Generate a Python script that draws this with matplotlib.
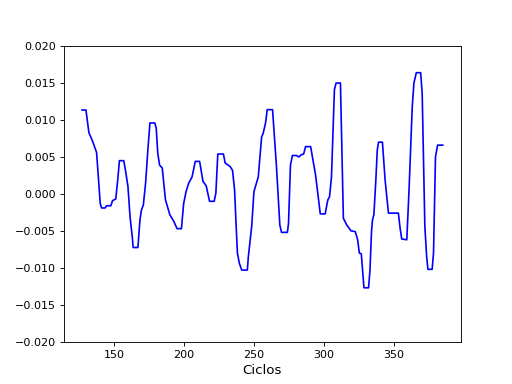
import numpy as np
import matplotlib
matplotlib.use('Agg')
from matplotlib import pyplot as plt

# puntos
ciclos = [127.1, 129.9, 132.0, 134.7, 137.5, 140.1, 141.1, 143.6, 144.6, 147.7,
          148.9, 151.2, 152.8, 153.8, 156.9, 158.3, 159.9, 161.4, 163.1, 163.6,
          167.0, 168.5, 169.5, 170.9, 172.5, 174.1, 175.6, 179.1, 180.1, 181.2,
          182.5, 184.4, 186.7, 189.8, 192.6, 195.0, 198.1, 199.7, 201.4, 203.3,
          205.7, 208.0, 211.1, 213.5, 215.8, 218.2, 221.5, 222.7, 224.1, 228.1,
          229.3, 232.9, 234.6, 236.1, 237.1, 238.1, 239.5, 241.2, 245.2, 245.9,
          248.3, 249.9, 251.3, 253.0, 255.4, 256.5, 258.2, 259.4, 263.2, 266.0,
          268.4, 269.6, 273.8, 274.6, 276.0, 277.4, 280.2, 281.9, 283.8, 285.4,
          286.8, 290.4, 293.9, 297.3, 300.8, 302.7, 303.9, 305.3, 307.4, 308.6,
          311.7, 313.8, 316.2, 319.3, 322.3, 324.0, 325.2, 326.6, 328.5, 331.8,
          332.8, 333.9, 334.6, 335.6, 337.0, 338.0, 338.9, 341.7, 343.6, 346.0,
          353.1, 354.3, 355.5, 359.1, 360.7, 363.0, 364.2, 365.9, 369.0, 370.1,
          372.0, 373.3, 374.2, 377.2, 378.2, 379.6, 381.1, 384.8]
valores = [0.01135, 0.01135, 0.0083, 0.0071, 0.0056, -0.0013, -0.0019, -0.0019, -0.0016, -0.0016,
           -0.0009, -0.0007, 0.0023, 0.0045, 0.0045, 0.0030, 0.0010, -0.0031, -0.0060, -0.00725,
           -0.00725, -0.0035, -0.0022, -0.0015, 0.00145, 0.0059, 0.0096, 0.0096, 0.0089, 0.0055,
           0.0039, 0.0035, -0.0008, -0.0028, -0.0037, -0.0047, -0.0047, -0.0013, 0.0003, 0.00145,
           0.0023, 0.0044, 0.0044, 0.0017, 0.0011, -0.0010, -0.0010, 0.0001, 0.0054, 0.0054,
           0.0042, 0.0037, 0.0032, 0.0005, -0.0040, -0.0080, -0.0094, -0.0103, -0.0103, -0.0085,
           -0.0044, 0.0003, 0.0012, 0.0023, 0.0077, 0.0082, 0.0096, 0.0114, 0.0114, 0.0037,
           -0.0042, -0.0052, -0.0052, -0.0040, 0.0039, 0.0052, 0.0052, 0.0050, 0.0053, 0.0054,
           0.0064, 0.0064, 0.0026, -0.0027, -0.0027, -0.0008, -0.0004, 0.0023, 0.0141, 0.0150,
           0.0150, -0.0033, -0.0042, -0.0050, -0.0051, -0.0062, -0.0080, -0.0081, -0.0127, -0.0127,
           -0.0103, -0.0051, -0.0035, -0.0028, 0.0019, 0.0059, 0.0070, 0.0070, 0.0019, -0.0026,
           -0.0026, -0.0046, -0.0061, -0.0062, 0.0005, 0.0118, 0.0150, 0.0164, 0.0164, 0.0136,
           -0.0044, -0.0085, -0.0102, -0.0102, -0.0080, 0.0050, 0.0066, 0.0066]

plt.figure(figsize=(6.4, 4.8), dpi=80)
plt.plot(ciclos, valores, 'b')
plt.ylim(-0.02, 0.02)
plt.xlabel("Ciclos", fontsize=12)
plt.savefig('out.png')
